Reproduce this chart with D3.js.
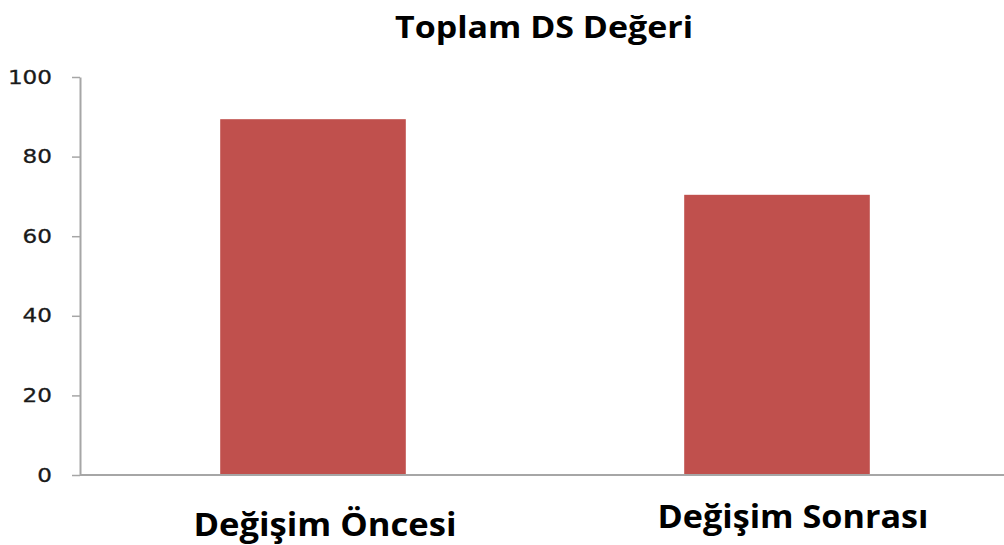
<!DOCTYPE html>
<html><head><meta charset="utf-8">
<script src="https://cdn.jsdelivr.net/npm/d3@7"></script>
<style>body{margin:0;background:#fff}svg{display:block}</style>
</head><body>
<svg id="c" width="1004" height="545"></svg>
<script>
const categories = ["Değişim Öncesi", "Değişim Sonrası"];
const values = [89.4, 70.4];
const yTicks = [0, 20, 40, 60, 80, 100];
const title = "Toplam DS Değeri";

const svg = d3.select("#c");
const x = d3.scaleBand().domain(categories).range([81, 1009]).paddingInner(0.6).paddingOuter(0.3);
const y = d3.scaleLinear().domain([0, 100]).range([475, 77]);
const axisColor = "#a6a6a6";

// y axis
const ya = svg.append("g").attr("transform", "translate(80,0)")
  .call(d3.axisLeft(y).tickValues(yTicks).tickSize(8).tickSizeOuter(0).tickPadding(20));
ya.select(".domain").attr("stroke", axisColor).attr("stroke-width", 2);
ya.selectAll(".tick line").attr("stroke", axisColor).attr("stroke-width", 1.5);
ya.selectAll(".tick text").attr("fill", "#1a1a1a").style("font-family", "DejaVu Sans")
  .style("font-size", "19px").attr("x", -28).attr("stroke", "#1a1a1a").attr("stroke-width", 0.3)
  .attr("textLength", d => String(d).length * 14.7).attr("lengthAdjust", "spacingAndGlyphs");

// bars
svg.append("g").selectAll("rect").data(values).join("rect")
  .attr("x", (d, i) => x(categories[i]))
  .attr("width", x.bandwidth())
  .attr("y", d => y(d))
  .attr("height", d => y(0) - y(d))
  .attr("fill", "#c0504d");

// x axis line
svg.append("line").attr("x1", 80).attr("x2", 1004).attr("y1", y(0)).attr("y2", y(0))
  .attr("stroke", axisColor).attr("stroke-width", 2);

// category labels
const labelOffsets = [{dx: 12, y: 536, w: 263}, {dx: 16, y: 528, w: 271}];
svg.append("g").selectAll("text").data(categories).join("text")
  .attr("x", (d, i) => x(d) + x.bandwidth() / 2 + labelOffsets[i].dx)
  .attr("y", (d, i) => labelOffsets[i].y)
  .attr("text-anchor", "middle")
  .attr("textLength", (d, i) => labelOffsets[i].w)
  .attr("lengthAdjust", "spacingAndGlyphs")
  .style("font-family", "Open Sans").style("font-weight", "bold").style("font-size", "32px")
  .attr("fill", "#000").text(d => d);

// title
svg.append("text").attr("x", 544).attr("y", 38).attr("text-anchor", "middle")
  .attr("textLength", 298).attr("lengthAdjust", "spacingAndGlyphs")
  .style("font-family", "Open Sans").style("font-weight", "bold").style("font-size", "30px")
  .attr("fill", "#000").text(title);
</script>
</body></html>
